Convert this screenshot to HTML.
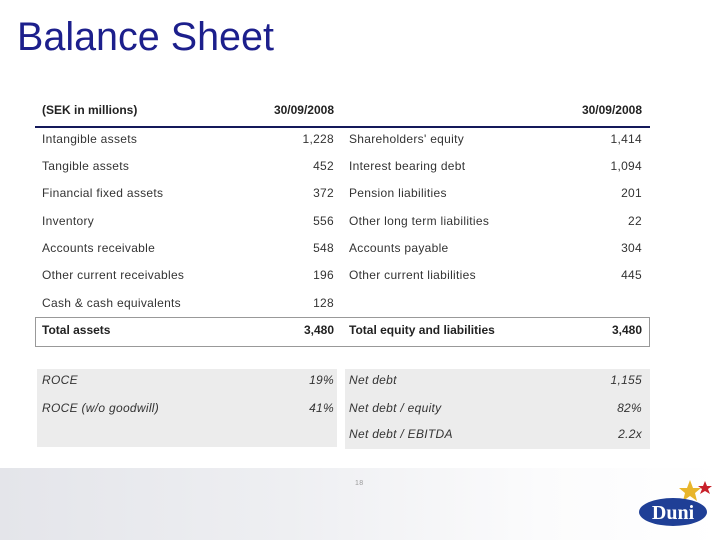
<!DOCTYPE html>
<html><head><meta charset="utf-8"><style>
body{margin:0;width:720px;height:540px;position:relative;overflow:hidden;background:#fff;font-family:"Liberation Sans",sans-serif;}
.t{position:absolute;font-size:12px;color:#333;white-space:nowrap;line-height:14px;letter-spacing:0.3px}
.r{text-align:right}
.b{font-weight:bold;color:#222;letter-spacing:0}
.i{font-style:italic}
</style></head><body>
<div style="position:absolute;left:0;top:468px;width:720px;height:72px;background:linear-gradient(90deg,#e4e5ea 0%,#eeeff2 40%,#fbfbfc 75%,#fff 100%)"></div>
<div style="position:absolute;left:17px;top:14px;font-size:39.5px;color:#1c1f8c;line-height:46px">Balance Sheet</div>
<div style="position:absolute;left:35px;top:126px;width:615px;height:2px;background:#14195a"></div>
<div style="position:absolute;left:35px;top:317px;width:613px;height:28px;border:1px solid #999"></div>
<div style="position:absolute;left:37px;top:369px;width:300px;height:78px;background:#ececec"></div>
<div style="position:absolute;left:345px;top:369px;width:305px;height:80px;background:#ececec"></div>
<div id="rows"></div>
<div class="t" style="left:355px;top:477px;font-size:7px;color:#999">18</div>
<svg style="position:absolute;left:635px;top:478px" width="80" height="50">
<polygon points="55,2 58,10 66,10 60,15 62,23 55,18 48,23 50,15 44,10 52,10" fill="#e8b52a"/>
<polygon points="70,3 72,8 77,8 73,11 75,16 70,13 65,16 67,11 63,8 68,8" fill="#c8202a"/>
<ellipse cx="38" cy="34" rx="34" ry="14" fill="#1f3f96"/>
<text x="38" y="41" text-anchor="middle" font-family="Liberation Serif,serif" font-weight="bold" font-size="20" fill="#fff">Duni</text>
</svg>
<script>
const rows=[
["(SEK in millions)","30/09/2008","","30/09/2008",109,"b"],
["Intangible assets","1,228","Shareholders' equity","1,414",138,""],
["Tangible assets","452","Interest bearing debt","1,094",165,""],
["Financial fixed assets","372","Pension liabilities","201",192,""],
["Inventory","556","Other long term liabilities","22",220,""],
["Accounts receivable","548","Accounts payable","304",247,""],
["Other current receivables","196","Other current liabilities","445",274,""],
["Cash & cash equivalents","128","","",302,""],
["Total assets","3,480","Total equity and liabilities","3,480",329,"b"],
["ROCE","19%","Net debt","1,155",379,"i"],
["ROCE (w/o goodwill)","41%","Net debt / equity","82%",407,"i"],
["","","Net debt / EBITDA","2.2x",433,"i"]];
const c=document.getElementById('rows');
rows.forEach((r,k)=>{
 const cells=[[r[0],42,null],[r[1],null,386],[r[2],349,null],[r[3],null,78]];
 cells.forEach((d,j)=>{ if(!d[0])return;
  const e=document.createElement('div');
  
  
  e.className='t '+r[5]+(d[1]===null?' r':'');
  e.textContent=d[0];
  e.style.top=(r[4]-6)+'px';
  if(d[1]!==null)e.style.left=d[1]+'px';else e.style.right=d[2]+'px';
  c.appendChild(e);});
});
</script>
</body></html>
